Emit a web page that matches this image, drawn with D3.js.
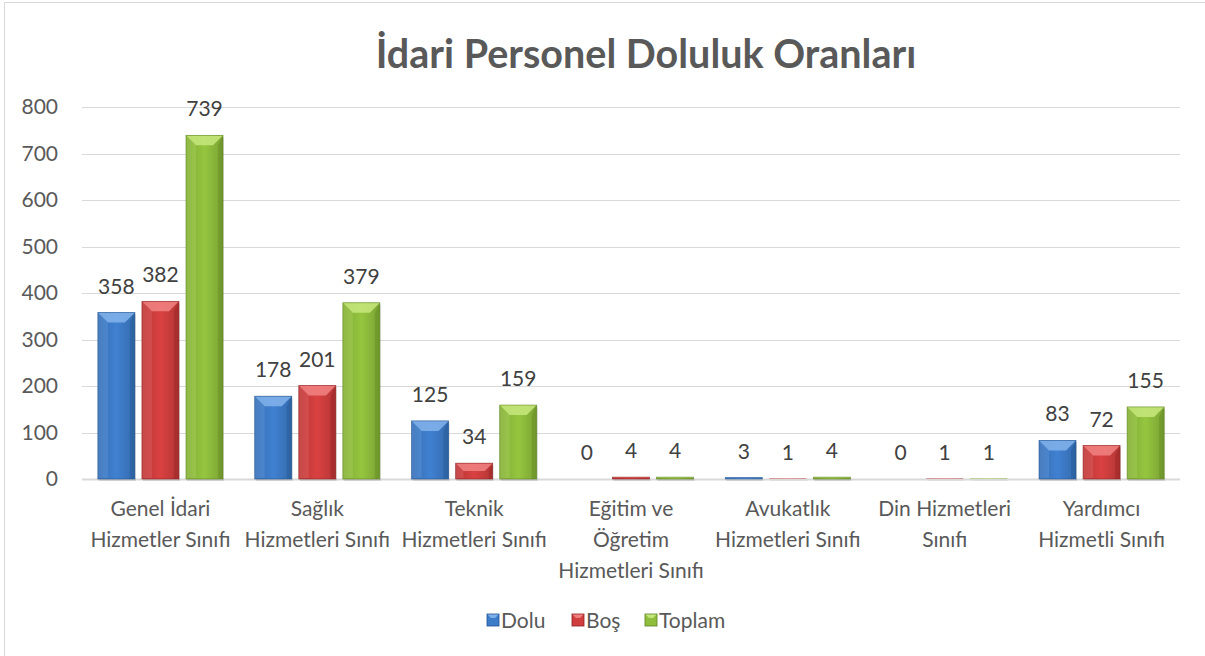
<!DOCTYPE html>
<html><head><meta charset="utf-8">
<script src="https://cdn.jsdelivr.net/npm/d3@7"></script>
<style>html,body{margin:0;padding:0;background:#fff;}svg{display:block;font-family:Lato,"Noto Sans",sans-serif;}</style>
</head><body>
<svg id="c" width="1205" height="656"></svg>
<script>
const title = "İdari Personel Doluluk Oranları";
const categories = [
  ["Genel İdari","Hizmetler Sınıfı"],
  ["Sağlık","Hizmetleri Sınıfı"],
  ["Teknik","Hizmetleri Sınıfı"],
  ["Eğitim ve","Öğretim","Hizmetleri Sınıfı"],
  ["Avukatlık","Hizmetleri Sınıfı"],
  ["Din Hizmetleri","Sınıfı"],
  ["Yardımcı","Hizmetli Sınıfı"]
];
const seriesNames = ["Dolu","Boş","Toplam"];
const dolu   = [358,178,125,0,3,0,83];
const bos    = [382,201,34,4,1,1,72];
const toplam = [739,379,159,4,4,1,155];
const yTicks = [0,100,200,300,400,500,600,700,800];
const colors = ["#3d7cc9","#d13e3e","#8fbe3c"];
const light  = ["#7fb0ea","#f08080","#c4e67a"];
const dark   = ["#21528f","#8e2020","#5c8220"];

const seriesVals = [dolu,bos,toplam];
const svg = d3.select("#c");
const FS = 21;
const m = {l:82, r:1180, t:107, b:479};

// outer chart border
svg.append("rect").attr("x",4.5).attr("y",2.5).attr("width",1215).attr("height",680)
  .attr("fill","none").attr("stroke","#d9d9d9").attr("stroke-width",1);

const x0 = d3.scaleBand().domain(d3.range(categories.length)).range([m.l,m.r]).paddingInner(0).paddingOuter(0);
const x1 = d3.scaleBand().domain(d3.range(3)).range([0,x0.bandwidth()]).paddingInner(0.16).paddingOuter(0.36);
const y = d3.scaleLinear().domain([0,800]).range([m.b,m.t]);

// gridlines
svg.append("g").selectAll("line").data(yTicks).join("line")
  .attr("x1",m.l).attr("x2",m.r).attr("y1",d=>Math.round(y(d))+0.5).attr("y2",d=>Math.round(y(d))+0.5)
  .attr("stroke","#d9d9d9").attr("stroke-width",d=>d===0?2:1.2);

// y axis labels
const ya = d3.axisLeft(y).tickValues(yTicks).tickSize(0).tickPadding(24);
const yg = svg.append("g").attr("transform",`translate(${m.l},0)`).call(ya);
yg.select(".domain").remove();
yg.selectAll("text").attr("font-size",FS).attr("fill","#595959").attr("font-family","Lato,'Noto Sans',sans-serif");

// defs gradients
const defs = svg.append("defs");
colors.forEach((c,i)=>{
  const g = defs.append("linearGradient").attr("id","g"+i).attr("x1","0").attr("x2","1").attr("y1","0").attr("y2","0");
  g.append("stop").attr("offset","0").attr("stop-color",d3.color(c).darker(0.35));
  g.append("stop").attr("offset","0.5").attr("stop-color",d3.color(c).brighter(0.12));
  g.append("stop").attr("offset","1").attr("stop-color",d3.color(c).darker(0.45));
});

// bars
const bars = [];
seriesVals.forEach((vals,s)=>vals.forEach((v,i)=>bars.push({s,i,v})));
const bg = svg.append("g");
bars.forEach(d=>{
  const bx = x0(d.i)+x1(d.s), bw = x1.bandwidth();
  const top = y(d.v), h = y(0)-y(d.v);
  const g = bg.append("g");
  g.append("rect").attr("x",bx+1).attr("y",top+2).attr("width",bw).attr("height",h).attr("fill","#000").attr("opacity",0.12);
  g.append("rect").attr("x",bx).attr("y",top).attr("width",bw).attr("height",h).attr("fill",`url(#g${d.s})`);
  if (h>0.5){
    const b = Math.min(10, h/2, bw/2);
    g.append("polygon").attr("points",[[bx,top],[bx+bw,top],[bx+bw-b,top+b],[bx+b,top+b]].join(" "))
      .attr("fill",light[d.s]).attr("opacity",0.9);
    g.append("polygon").attr("points",[[bx,top],[bx+b,top+b],[bx+b,top+h-1],[bx,top+h]].join(" "))
      .attr("fill",light[d.s]).attr("opacity",0.25);
    g.append("polygon").attr("points",[[bx+bw,top],[bx+bw-b*0.5,top+b],[bx+bw-b*0.5,top+h],[bx+bw,top+h]].join(" "))
      .attr("fill",dark[d.s]).attr("opacity",0.35);
    g.append("rect").attr("x",bx).attr("y",top).attr("width",bw).attr("height",h)
      .attr("fill","none").attr("stroke",dark[d.s]).attr("stroke-width",0.8).attr("opacity",0.7);
  }
});

// data labels
svg.append("g").selectAll("text").data(bars).join("text")
  .attr("x",d=>x0(d.i)+x1(d.s)+x1.bandwidth()/2)
  .attr("y",d=>y(d.v)-19)
  .attr("text-anchor","middle").attr("font-size",FS).attr("fill","#404040")
  .text(d=>d.v);

// x category labels
const xl = svg.append("g");
categories.forEach((lines,i)=>{
  const t = xl.append("text").attr("text-anchor","middle").attr("font-size",FS).attr("fill","#595959");
  lines.forEach((ln,k)=>t.append("tspan").attr("x",x0(i)+x0.bandwidth()/2).attr("y",516+k*31).text(ln));
});

// title
svg.append("text").attr("x",646).attr("y",68).attr("text-anchor","middle")
  .attr("font-size",39.5).attr("font-weight","bold").attr("fill","#595959").text(title);

// legend
const lg = svg.append("g");
const lx = [487,572,645];
seriesNames.forEach((n,s)=>{
  const gx = lx[s];
  const sz = 12, sy = 614;
  lg.append("rect").attr("x",gx).attr("y",sy).attr("width",sz).attr("height",sz).attr("fill",colors[s]);
  lg.append("polygon").attr("points",[[gx,sy],[gx+sz,sy],[gx+sz-4,sy+4],[gx+4,sy+4]].join(" ")).attr("fill",light[s]);
  lg.append("rect").attr("x",gx).attr("y",sy).attr("width",sz).attr("height",sz).attr("fill","none").attr("stroke",dark[s]).attr("stroke-width",0.8);
  lg.append("text").attr("x",gx+14).attr("y",628).attr("font-size",FS).attr("fill","#595959").text(n);
});
</script>
</body></html>
